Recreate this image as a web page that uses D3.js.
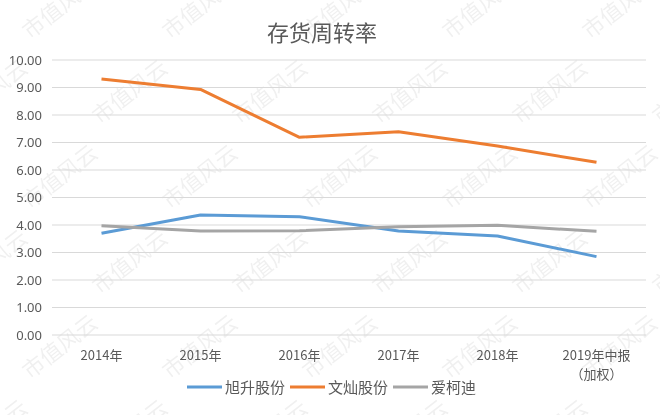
<!DOCTYPE html>
<html>
<head>
<meta charset="utf-8">
<script src="https://cdn.jsdelivr.net/npm/d3@7"></script>
<style>
  body { margin: 0; background: white; }
  text { font-family: "Noto Sans CJK SC", "Noto Sans", sans-serif; }
</style>
</head>
<body>
<div id="chart"></div>
<script>
// Chart data
const categories = ['2014年', '2015年', '2016年', '2017年', '2018年', '2019年中报\n（加权）'];
const xuSheng = [3.70, 4.36, 4.30, 3.78, 3.60, 2.85];
const wenCan = [9.31, 8.93, 7.19, 7.39, 6.87, 6.28];
const aiKeDi = [3.97, 3.78, 3.79, 3.94, 3.99, 3.77];
const seriesNames = ['旭升股份', '文灿股份', '爱柯迪'];
const yTicks = [0, 1, 2, 3, 4, 5, 6, 7, 8, 9, 10];

const width = 660, height = 415;
const margin = { top: 60, right: 14, bottom: 80, left: 52 };
const colors = ['#5B9BD5', '#ED7D31', '#A5A5A5'];

const svg = d3.select('#chart').append('svg')
    .attr('width', width)
    .attr('height', height)
    .style('background', 'white');

// Watermark tiles
const wm = svg.append('g').attr('fill', '#000').attr('opacity', 0.06)
    .attr('font-size', 22);
for (let r = -1; r < 6; r++) {
    for (let c = -1; c < 6; c++) {
        const wx = c * 140 + (r % 2) * 70 + 30;
        const wy = r * 85 + 40;
        wm.append('text')
            .attr('transform', `translate(${wx},${wy}) rotate(-38)`)
            .text('市值风云');
    }
}

// Scales
const x = d3.scaleBand()
    .domain(categories)
    .range([margin.left, width - margin.right]);

const y = d3.scaleLinear()
    .domain([0, 10])
    .range([height - margin.bottom, margin.top]);

// Grid lines
svg.append('g')
    .selectAll('line').data(yTicks)
    .enter().append('line')
        .attr('x1', margin.left)
        .attr('x2', width - margin.right)
        .attr('y1', d => y(d))
        .attr('y2', d => y(d))
        .attr('stroke', '#D9D9D9')
        .attr('stroke-width', 1);

// Y axis labels
svg.append('g')
    .attr('transform', `translate(${margin.left}, 0)`)
    .call(d3.axisLeft(y).tickValues(yTicks).tickSize(0).tickPadding(10).tickFormat(d3.format('.2f')))
    .call(g => g.select('.domain').remove())
    .call(g => g.selectAll('text')
        .attr('fill', '#595959')
        .attr('font-size', 13)
        .style('font-family', '"Noto Sans", sans-serif'));

// X axis labels (one text per line)
const xAxis = svg.append('g')
    .attr('transform', `translate(0, ${height - margin.bottom})`)
    .call(d3.axisBottom(x).tickSize(0).tickFormat(''))
    .call(g => g.select('.domain').remove());

xAxis.selectAll('.tick').each(function(d) {
    d.split('\n').forEach((l, i) => {
        d3.select(this).append('text')
            .attr('fill', '#595959')
            .attr('font-size', 13)
            .attr('text-anchor', 'middle')
            .attr('y', 25 + i * 19)
            .text(l);
    });
});

// Lines
const seriesData = [xuSheng, wenCan, aiKeDi];
const line = d3.line()
    .x((d, i) => x(categories[i]) + x.bandwidth() / 2)
    .y(d => y(d));

svg.append('g')
    .selectAll('path').data(seriesData)
    .enter().append('path')
        .attr('d', line)
        .attr('fill', 'none')
        .attr('stroke', (d, i) => colors[i])
        .attr('stroke-width', 3)
        .attr('stroke-linejoin', 'round');

// Legend
const legendX = [187, 290, 393];
const legend = svg.append('g')
    .attr('transform', `translate(0, 387)`);

seriesNames.forEach((name, i) => {
    legend.append('line')
        .attr('x1', legendX[i])
        .attr('x2', legendX[i] + 35)
        .attr('y1', 0)
        .attr('y2', 0)
        .attr('stroke', colors[i])
        .attr('stroke-width', 3);
    legend.append('text')
        .attr('x', legendX[i] + 38)
        .attr('y', 5.5)
        .attr('fill', '#595959')
        .attr('font-size', 15)
        .text(name);
});

// Title
svg.append('text')
    .attr('x', 322)
    .attr('y', 41)
    .attr('text-anchor', 'middle')
    .attr('font-size', 22)
    .attr('fill', '#595959')
    .text('存货周转率');
</script>
</body>
</html>
